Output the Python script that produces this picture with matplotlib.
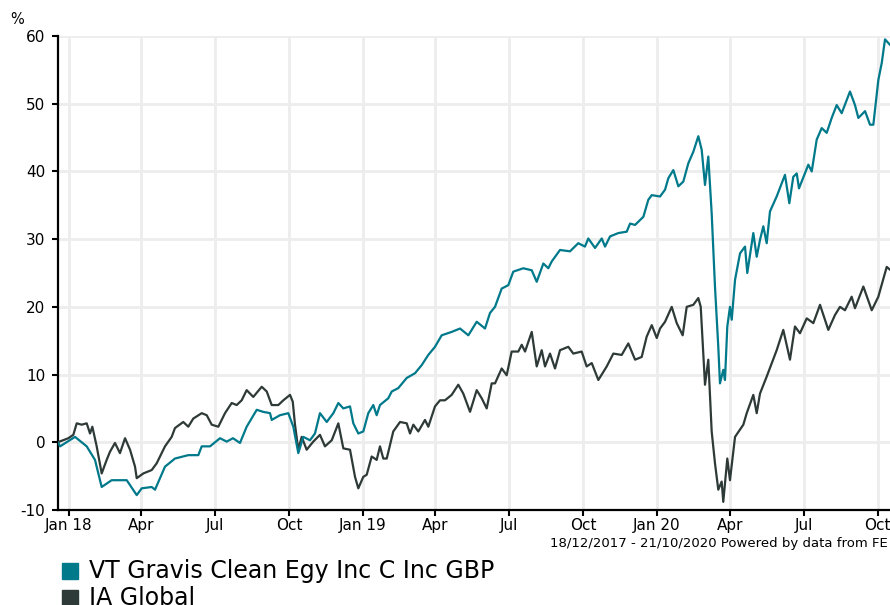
import matplotlib
matplotlib.use("Agg")
import matplotlib.pyplot as plt
import matplotlib.dates as mdates
import pandas as pd
import numpy as np

START = "2017-12-18"
END = "2020-10-21"

fund_name = "VT Gravis Clean Egy Inc C Inc GBP"
sector_name = "IA Global"

# days since 18/12/2017, cumulative performance (%)
fund_days = [0, 3, 21.5, 36, 46.3, 54.6, 67, 85.7, 98.1, 104.3, 116.7, 120.8, 133.2, 145.6, 162.1,
             174.6, 178.8, 189.1, 201.5, 209.8, 217.6, 226.3, 234.6, 247.1, 254.9, 263.6, 265.7,
             276, 286.3, 292.5, 298.7, 304.9, 313.2, 319.4, 325.6, 334, 342.2, 348.4, 354.6,
             362.9, 367, 373.2, 379.4, 385.6, 391.8, 396, 400.1, 410.4, 414.7, 422.8, 433.3,
             443.6, 451.9, 460.1, 468.4, 476.7, 489.1, 499.5, 509.8, 520.2, 530.5, 536.7, 542.9,
             551.2, 559.4, 565.6, 578, 588.5, 594.7, 602.9, 609.1, 613.3, 623.6, 636, 646.3,
             654.6, 658.7, 667.1, 675.4, 679.5, 685.7, 696, 706.4, 710.6, 716.8, 727.1, 733.2,
             737.5, 747.8, 754, 758.1, 764.3, 770.5, 776.7, 782.9, 789.1, 795.3, 799.5, 803.6,
             807.7, 811.9, 816, 820.1, 822.2, 826.3, 828.4, 831.3, 834.6, 836.8, 840.9, 847.1,
             853.3, 856.1, 863.6, 867.8, 871.9, 876, 880.2, 884.3, 892.6, 902.9, 908.3, 913.2,
             917.5, 920.3, 931.9, 936.1, 942.3, 948.5, 954.7, 960.9, 967.1, 973.3, 983.6, 989.8,
             994, 1002.3, 1008.5, 1012.6, 1018.8, 1023, 1027.1, 1033.3, 1038]
fund_vals = [0, -0.6, 0.8, -0.6, -2.6, -6.6, -5.6, -5.6, -7.8, -6.8, -6.6, -7.0, -3.6, -2.4, -1.9,
             -1.9, -0.6, -0.6, 0.6, 0.1, 0.6, -0.1, 2.3, 4.8, 4.5, 4.3, 3.3,
             4.0, 4.3, 2.3, -1.6, 0.8, 0.3, 1.3, 4.3, 3.0, 4.3, 5.8, 5.0,
             5.3, 2.8, 1.3, 1.6, 4.3, 5.5, 4.0, 5.5, 6.5, 7.5, 8.0, 9.5,
             10.2, 11.4, 12.9, 14.1, 15.8, 16.3, 16.8, 15.8, 17.8, 16.8, 19.1, 20.0,
             22.7, 23.2, 25.2, 25.7, 25.4, 23.7, 26.4, 25.7, 26.7, 28.4, 28.2, 29.4,
             28.9, 30.1, 28.7, 30.1, 28.9, 30.4, 30.9, 31.1, 32.3, 32.1, 33.3, 35.8,
             36.5, 36.3, 37.3, 39.0, 40.2, 37.8, 38.5, 41.2, 42.9, 45.2, 43.2, 38.0,
             42.2, 33.8, 23.0, 14.1, 8.7, 10.7, 9.2, 17.1, 20.0, 18.1, 24.0, 27.9,
             28.9, 25.0, 30.9, 27.4, 29.9, 31.9, 29.4, 34.1, 36.3, 39.5, 35.3, 39.2,
             39.7, 37.5, 41.0, 40.0, 44.7, 46.4, 45.7, 47.9, 49.8, 48.6, 51.8, 49.8,
             47.9, 48.9, 46.9, 46.9, 53.5, 56.0, 59.5, 58.7, 58.3]

sector_days = [0, 13.2, 19.4, 23.6, 29.8, 36, 40.1, 43, 48.4, 54.6, 60.8, 64.9, 71.1, 77.3, 83.6,
               89.8, 96, 98.1, 106.3, 116.7, 122.9, 133.2, 141.5, 145.6, 155.9, 162.1, 168.3,
               178.8, 185, 191.2, 199.4, 207.7, 216, 222.2, 228.4, 234.6, 242.8, 253.3, 259.5,
               265.7, 273.9, 280.1, 288.4, 291.8, 294.6, 298.7, 302.9, 309.1, 317.3, 325.6,
               331.8, 340.2, 348.4, 354.6, 362.9, 369.1, 373.2, 379.4, 383.6, 389.8, 396, 400.1,
               404.2, 408.5, 416.6, 425, 433.3, 437.4, 441.5, 447.7, 456, 460.1, 468.4, 474.6,
               480.8, 489.1, 497.3, 503.5, 511.9, 520.2, 526.4, 532.6, 538.8, 542.9, 551.2,
               557.4, 563.6, 571.8, 576.1, 580.2, 588.5, 594.7, 600.9, 605, 611.2, 617.4, 623.6,
               633.9, 640.1, 650.5, 656.7, 663, 671.2, 681.6, 689.8, 700.2, 708.4, 716.8, 725,
               731.2, 737.5, 743.7, 747.8, 754, 762.3, 768.5, 775.9, 780.9, 789.1, 795.3, 798.3,
               803.6, 807.7, 811.9, 816, 820.1, 824.3, 826.3, 831.3, 834.6, 840.9, 851.2, 855.4,
               863.6, 867.8, 871.9, 880.2, 892.6, 900.8, 909.1, 915.3, 921.5, 929.9, 938.1,
               946.4, 956.7, 965, 971.2, 977.4, 985.7, 989.8, 1000.2, 1010.6, 1018.8, 1029.2,
               1033.3, 1038]
sector_vals = [0, 0.6, 1.1, 2.8, 2.6, 2.8, 1.3, 2.3, -0.6, -4.6, -2.6, -1.4, -0.1, -1.6, 0.6,
               -1.1, -3.6, -5.3, -4.6, -4.1, -3.1, -0.6, 0.8, 2.1, 3.0, 2.3, 3.5,
               4.3, 4.0, 2.6, 2.3, 4.3, 5.8, 5.5, 6.2, 7.7, 6.7, 8.2, 7.5,
               5.5, 5.5, 6.2, 7.0, 6.0, 2.6, -1.1, 0.8, -1.1, 0.1, 1.1,
               -0.6, 0.3, 2.8, -0.9, -1.1, -5.1, -6.8, -5.1, -4.8, -2.1, -2.6, -0.6,
               -2.4, -2.4, 1.6, 3.0, 2.8, 1.3, 2.6, 1.6, 3.3, 2.3, 5.3, 6.2,
               6.2, 7.0, 8.5, 7.2, 4.5, 7.7, 6.5, 5.0, 8.7, 8.7, 10.9,
               9.9, 13.4, 13.4, 14.4, 13.4, 16.3, 11.2, 13.6, 11.2, 13.1, 10.9, 13.6,
               14.1, 13.1, 13.4, 11.2, 11.7, 9.2, 11.2, 13.1, 12.9, 14.6, 12.2, 12.6,
               15.6, 17.3, 15.4, 16.8, 17.8, 20.0, 17.6, 15.8, 20.0, 20.3, 21.3, 20.0,
               8.5, 12.2, 1.6, -3.1, -7.0, -5.8, -8.8, -2.4, -5.6, 0.8, 2.6, 4.3,
               7.0, 4.3, 7.2, 9.7, 13.6, 16.6, 12.2, 17.1, 16.1, 18.3, 17.6,
               20.3, 16.6, 18.8, 20.0, 19.5, 21.5, 19.8, 23.0, 19.5, 21.5, 25.9,
               25.5, 25.0]

y_ticks = [-10, 0, 10, 20, 30, 40, 50, 60]

FUND_COLOR = "#00798B"
SECTOR_COLOR = "#2E3A37"
GRID_COLOR = "#EDEDED"

plt.rcParams['font.family'] = ['DejaVu Sans']

start = pd.Timestamp(START)
fund_dates = start + pd.to_timedelta(fund_days, unit="D")
sector_dates = start + pd.to_timedelta(sector_days, unit="D")

fig = plt.figure(figsize=(8.9, 6.05), dpi=100)
ax = fig.add_axes([57.7 / 890, 95 / 605, (893.8 - 57.7) / 890, (510 - 36) / 605])

ax.plot(sector_dates, sector_vals, color=SECTOR_COLOR, lw=1.6, zorder=3)
ax.plot(fund_dates, fund_vals, color=FUND_COLOR, lw=1.6, zorder=4)

ax.set_xlim(pd.Timestamp(START), pd.Timestamp(END))
ax.set_ylim(-10, 60)
ax.set_yticks(y_ticks)
ax.set_yticklabels([str(v) for v in y_ticks])

ax.xaxis.set_major_locator(mdates.MonthLocator(bymonth=[1, 4, 7, 10]))

def fmt(x, pos=None):
    d = mdates.num2date(x)
    if d.month == 1:
        return d.strftime("Jan %y")
    return d.strftime("%b")

ax.xaxis.set_major_formatter(plt.FuncFormatter(fmt))

ax.grid(True, color=GRID_COLOR, lw=2, zorder=0)
ax.set_axisbelow(True)
for s in ["top", "right"]:
    ax.spines[s].set_visible(False)
for s in ["left", "bottom"]:
    ax.spines[s].set_color("black")
    ax.spines[s].set_linewidth(1.6)
ax.tick_params(axis="both", colors="black", labelsize=11, length=4, width=1.5)
ax.tick_params(axis="y", pad=5)
ax.tick_params(axis="x", pad=2)

fig.text(10 / 890, 1 - 20 / 605, "%", fontsize=10.5, va="center", ha="left")
fig.text(888 / 890, 1 - 543 / 605, "18/12/2017 - 21/10/2020 Powered by data from FE",
         fontsize=9.5, ha="right", va="center")

# legend
for i, (name, col) in enumerate([(fund_name, FUND_COLOR), (sector_name, SECTOR_COLOR)]):
    yc = 571 + i * 27
    fig.patches.append(plt.Rectangle((62 / 890, 1 - (yc + 8) / 605), 16 / 890, 16 / 605,
                                     transform=fig.transFigure, color=col, figure=fig))
    fig.text(89 / 890, 1 - yc / 605, name, fontsize=17, ha="left", va="center")

fig.savefig("out.png", dpi=100)
